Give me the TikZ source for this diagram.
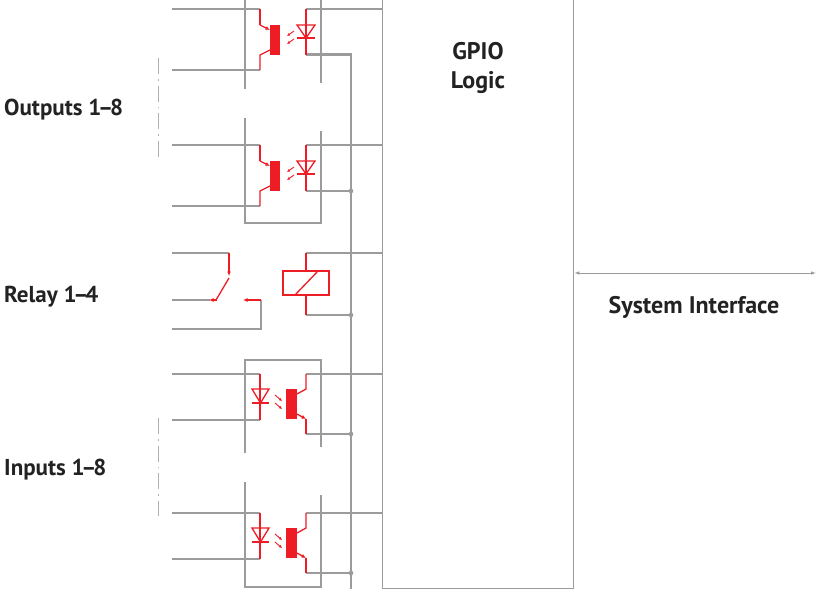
\documentclass[tikz,border=0pt]{standalone}
\usepackage{fontspec}
\setmainfont{PT Sans}
\usetikzlibrary{arrows.meta}
\definecolor{wgray}{HTML}{9B9B9B}
\definecolor{cred}{HTML}{EE1C25}
\definecolor{txt}{HTML}{222222}
\newcommand\rng[2]{#1\kern-3.2pt–\kern-3.2pt#2}
\tikzset{
 wire/.style={draw=wgray, line width=1.3pt},
 rw/.style={draw=cred, line width=1.3pt},
 jdot/.style={fill=wgray, draw=none},
 dashdot/.style={draw=wgray!80, line width=1pt, dash pattern=on 16pt off 5pt on 1.5pt off 5pt},
 lbl/.style={font=\fontsize{24}{29}\selectfont\bfseries, text=txt, inner sep=0pt},
 slbl/.style={font=\fontsize{23}{28}\selectfont\bfseries, text=txt, inner sep=0pt},
 light/.style={draw=cred, line width=0.9pt, -{Latex[length=3pt,width=3pt]}},
 tip/.style={-{Latex[length=4.5pt,width=4pt]}},
}
\newcommand\optoOut{%
 \draw[wire] (172,0) -- (260,0);
 \draw[wire] (172,61) -- (260,61);
 \draw[wire] (306,0) -- (382,0);
 \draw[wire] (306,46) -- (351,46);
 \draw[rw] (260,0) -- (260,16);
 \draw[rw,tip] (260,16) -- (270,21);
 \fill[cred] (270,16) rectangle (280,46);
 \draw[rw] (270,41) -- (260,46) -- (260,61);
 \draw[rw] (306,0) -- (306,46);
 \draw[rw] (297,16) -- (315,16) -- (306,29) -- cycle;
 \draw[rw] (297,29) -- (315,29);
 \draw[light] (294,22) -- (287,27);
 \draw[light] (294,30) -- (287,35);
}
\newcommand\optoIn{%
 \draw[wire] (172,0) -- (260,0);
 \draw[wire] (172,46) -- (260,46);
 \draw[wire] (306,0) -- (382,0);
 \draw[wire] (306,60) -- (351,60);
 \fill[wgray] (351,60) circle (2.3pt);
 \draw[rw] (260,0) -- (260,46);
 \draw[rw] (252,15) -- (269,15) -- (260.5,29) -- cycle;
 \draw[rw] (252,29) -- (269,29);
 \draw[light] (275,21) -- (282,27);
 \draw[light] (275,29) -- (282,35);
 \fill[cred] (286,15) rectangle (297,45);
 \draw[rw] (297,20) -- (306,15) -- (306,0);
 \draw[rw,tip] (297,40) -- (306,45);
 \draw[rw] (306,45) -- (306,60);
}
\begin{document}
\begin{tikzpicture}[x=1pt,y=-1pt]
\useasboundingbox (0,0) rectangle (818,592);
\clip (0,0) rectangle (818,592);
\fill[white] (0,0) rectangle (818,592);

% GPIO block
\node[draw=wgray, line width=1.3pt, minimum width=191pt, minimum height=610pt, anchor=south west, inner sep=0pt] (gpio) at (382,589) {};
\node[lbl, align=center] (gpiotxt) at (478,68) {GPIO\\Logic};

% system interface
\coordinate (sysend) at (816,273);
\draw[draw=wgray, line width=0.8pt, {Latex[length=5pt,width=3.5pt]}-{Latex[length=5pt,width=3.5pt]}] (gpio.east |- sysend) -- (sysend);
\node[lbl] (systxt) at (694,307) {System Interface};

% bus
\coordinate (busTop) at (351,54);
\coordinate (busBot) at (351,589);
\draw[wire] (306,54) -- (busTop) -- (busBot);

% output blocks
\begin{scope}[yshift=-9pt] \optoOut \end{scope}
\begin{scope}[yshift=-145pt] \optoOut \end{scope}
\fill[jdot] (351,191) circle (2.3pt);
\draw[wire] (245,-5) -- (245,89);
\draw[wire] (321,-5) -- (321,83);
\draw[wire] (245,118) -- (245,223) -- (321,223) -- (321,131);

% relay
\draw[wire] (172,253) -- (229,253);
\draw[wire] (172,300) -- (210,300);
\draw[wire] (306,253) -- (382,253);
\draw[wire] (306,315) -- (351,315);
\fill[jdot] (351,315) circle (2.3pt);
\draw[wire] (261,300) -- (261,329) -- (172,329);
\draw[rw,tip] (229,253) -- (229,276);
\draw[rw] (229,278) -- (216,300);
\draw[rw,tip] (217,300) -- (209,300);
\draw[rw,tip] (261,300) -- (243,300);
\draw[rw] (306,253) -- (306,271);
\draw[rw] (306,295) -- (306,315);
\draw[rw] (283,271) rectangle (329,295);
\draw[rw] (295,295) -- (318,271);

% input blocks
\begin{scope}[yshift=-374pt] \optoIn \end{scope}
\begin{scope}[yshift=-513pt] \optoIn \end{scope}
\draw[wire] (245,453) -- (245,360) -- (321,360) -- (321,447);
\draw[wire] (245,482) -- (245,587) -- (321,587) -- (321,495);

% dash-dot continuation marks
\draw[dashdot] (158,58) -- (158,157);
\draw[dashdot] (158,418) -- (158,516);

% labels
\node[slbl, anchor=base west] (lout) at (4,115) {Outputs \rng{1}{8}};
\node[slbl, anchor=base west] (lrel) at (4,302) {Relay \rng{1}{4}};
\node[slbl, anchor=base west] (lin) at (4,475) {Inputs \rng{1}{8}};
\end{tikzpicture}
\end{document}
